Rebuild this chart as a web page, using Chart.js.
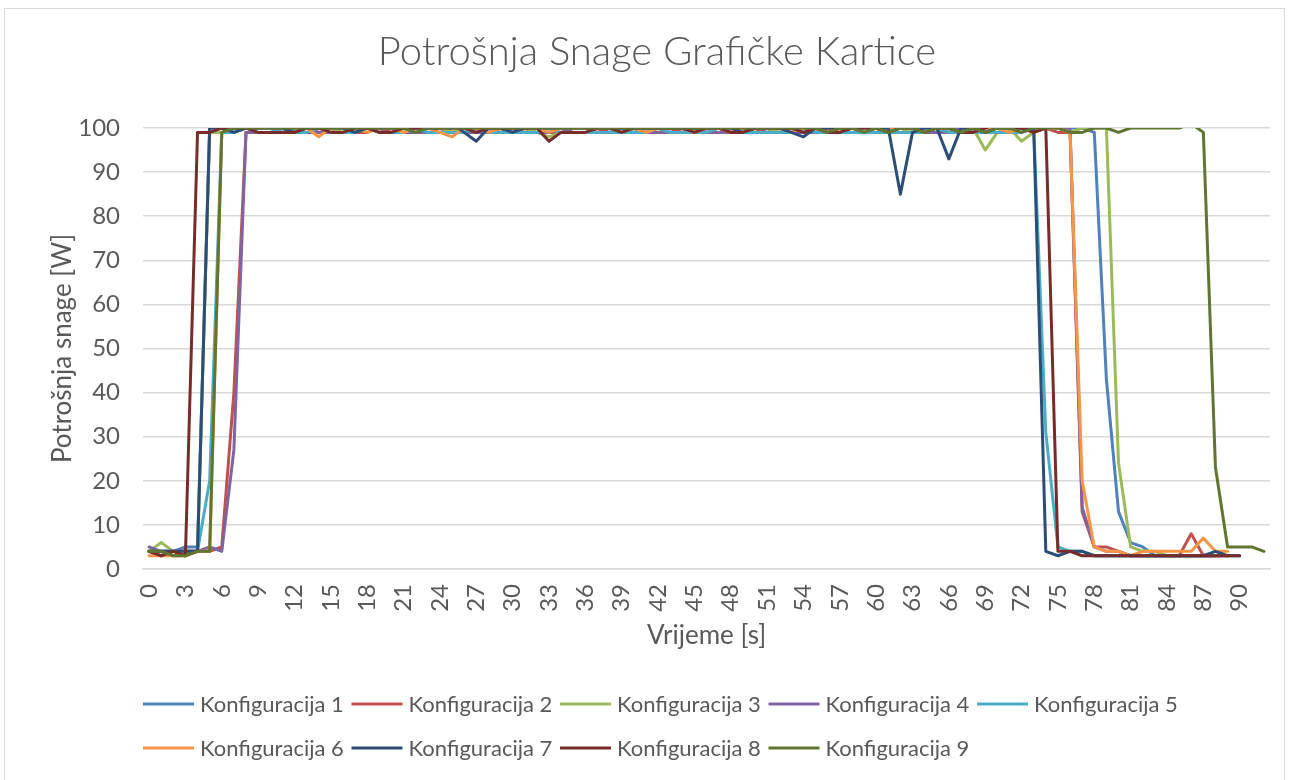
<!DOCTYPE html>
<html>
<head>
<meta charset="utf-8">
<title>Potrošnja Snage Grafičke Kartice</title>
<script src="https://cdn.jsdelivr.net/npm/chart.js@4.4.1/dist/chart.umd.min.js"></script>
<style>
  html, body { margin: 0; padding: 0; background: #fff; }
  body { width: 1291px; height: 780px; position: relative; overflow: hidden; }
  .frame { position: absolute; left: 4px; top: 8px; width: 1281px; height: 800px; border: 1px solid #d9d9d9; box-sizing: border-box; }
  #chart-wrap { position: absolute; left: 0; top: 0; width: 1291px; height: 780px; }
</style>
</head>
<body>
<div class="frame"></div>
<div id="chart-wrap"><canvas id="power"></canvas></div>
<script>
// time axis, one sample per second
const seconds = [
  0, 1, 2, 3, 4, 5, 6, 7, 8, 9, 10, 11, 12, 13, 14, 15, 16, 17, 18, 19,
  20, 21, 22, 23, 24, 25, 26, 27, 28, 29, 30, 31, 32, 33, 34, 35, 36, 37, 38, 39,
  40, 41, 42, 43, 44, 45, 46, 47, 48, 49, 50, 51, 52, 53, 54, 55, 56, 57, 58, 59,
  60, 61, 62, 63, 64, 65, 66, 67, 68, 69, 70, 71, 72, 73, 74, 75, 76, 77, 78, 79,
  80, 81, 82, 83, 84, 85, 86, 87, 88, 89, 90, 91, 92
];
const yTicks = [0, 10, 20, 30, 40, 50, 60, 70, 80, 90, 100];

const seriesNames = [
  'Konfiguracija 1', 'Konfiguracija 2', 'Konfiguracija 3',
  'Konfiguracija 4', 'Konfiguracija 5', 'Konfiguracija 6',
  'Konfiguracija 7', 'Konfiguracija 8', 'Konfiguracija 9'
];
const seriesColors = [
  '#4f81bd', '#c0504d', '#9bbb59', '#8064a2', '#4bacc6',
  '#f79646', '#2c4d75', '#772c2a', '#5f7530'
];

// power draw in W
const power1 = [
  4, 4, 4, 5, 5, 100, 100, 99, 100, 100,
  100, 99, 100, 100, 99, 99, 99, 100, 100, 99,
  100, 100, 100, 99, 99, 100, 100, 100, 99, 100,
  99, 100, 100, 101, 100, 100, 100, 100, 99, 100,
  99, 100, 100, 99, 100, 99, 100, 100, 99, 100,
  100, 99, 100, 100, 99, 100, 99, 100, 100, 99,
  99, 100, 100, 99, 100, 100, 99, 100, 99, 100,
  100, 99, 100, 100, 100, 100, 100, 100, 99, 43,
  13, 6, 5, 3, 3, 3, 3, 3, 3
];
const power2 = [
  4, 3, 4, 4, 4, 4, 5, 40, 99, 99,
  99, 99, 99, 100, 99, 99, 100, 99, 99, 100,
  99, 100, 99, 100, 100, 99, 100, 99, 100, 99,
  100, 99, 100, 99, 99, 100, 100, 99, 100, 99,
  100, 99, 100, 100, 99, 100, 99, 100, 99, 100,
  99, 100, 99, 100, 100, 99, 100, 99, 100, 99,
  100, 99, 100, 100, 99, 99, 100, 99, 100, 99,
  100, 99, 100, 99, 100, 99, 99, 13, 5, 5,
  4, 3, 3, 3, 3, 3, 8, 3, 3, 3
];
const power3 = [
  4, 6, 4, 3, 4, 99, 99, 100, 100, 100,
  100, 100, 99, 100, 100, 100, 99, 100, 100, 100,
  100, 99, 100, 100, 100, 99, 100, 100, 100, 102,
  100, 100, 99, 98, 99, 100, 100, 100, 100, 99,
  100, 100, 99, 100, 100, 99, 100, 100, 100, 99,
  100, 100, 99, 100, 100, 100, 99, 100, 100, 99,
  100, 100, 100, 99, 100, 100, 99, 100, 100, 95,
  99, 100, 97, 99, 100, 100, 99, 100, 100, 100,
  24, 5, 4, 4, 3, 3, 3
];
const power4 = [
  5, 4, 4, 4, 4, 5, 4, 27, 99, 99,
  99, 99, 99, 99, 99, 99, 99, 99, 100, 99,
  99, 99, 99, 99, 99, 99, 99, 99, 99, 99,
  99, 99, 99, 99, 100, 99, 99, 99, 99, 99,
  99, 99, 99, 99, 99, 100, 99, 99, 99, 99,
  99, 99, 99, 99, 99, 99, 99, 99, 99, 99,
  99, 99, 99, 99, 99, 99, 99, 100, 99, 99,
  99, 99, 99, 100, 100, 100, 100, 14, 5, 4,
  4, 3, 3, 3, 3, 3, 3, 3, 3, 3
];
const power5 = [
  4, 4, 3, 4, 4, 20, 99, 99, 100, 99,
  99, 100, 99, 99, 100, 99, 99, 99, 100, 99,
  99, 99, 100, 99, 99, 99, 99, 100, 99, 99,
  99, 99, 99, 100, 99, 99, 99, 99, 99, 99,
  99, 99, 100, 99, 99, 99, 99, 100, 99, 99,
  99, 99, 99, 99, 100, 99, 99, 99, 99, 99,
  99, 99, 99, 99, 99, 100, 99, 99, 99, 99,
  99, 99, 99, 100, 31, 5, 4, 4, 3, 3,
  3, 3, 3, 3, 3, 3, 3, 3, 3
];
const power6 = [
  3, 3, 3, 3, 4, 4, 99, 100, 100, 100,
  100, 100, 100, 100, 98, 100, 100, 100, 99, 100,
  100, 99, 100, 100, 99, 98, 100, 100, 99, 100,
  101, 100, 100, 99, 100, 100, 100, 100, 100, 102,
  100, 99, 100, 100, 100, 99, 100, 100, 99, 100,
  100, 100, 100, 99, 100, 100, 99, 100, 100, 100,
  100, 100, 100, 100, 102, 100, 100, 99, 99, 100,
  100, 99, 100, 99, 100, 100, 99, 20, 5, 4,
  4, 3, 4, 4, 4, 4, 4, 7, 4, 4
];
const power7 = [
  4, 4, 4, 4, 4, 100, 100, 99, 100, 100,
  100, 100, 99, 100, 100, 100, 100, 99, 100, 100,
  100, 100, 100, 100, 100, 101, 99, 97, 100, 100,
  99, 100, 100, 100, 100, 100, 100, 100, 100, 100,
  100, 100, 100, 100, 100, 100, 100, 100, 100, 99,
  100, 100, 100, 99, 98, 100, 100, 100, 100, 100,
  100, 100, 85, 99, 100, 100, 93, 100, 100, 99,
  100, 100, 100, 100, 4, 3, 4, 4, 3, 3,
  3, 3, 3, 3, 3, 3, 3, 3, 4, 3, 3
];
const power8 = [
  4, 3, 4, 3, 99, 99, 100, 100, 100, 99,
  99, 99, 99, 100, 100, 99, 99, 100, 100, 99,
  99, 100, 100, 100, 100, 100, 100, 99, 100, 100,
  100, 100, 100, 97, 99, 99, 99, 100, 100, 99,
  100, 100, 100, 100, 100, 99, 100, 100, 99, 99,
  100, 100, 100, 100, 99, 100, 99, 99, 100, 100,
  100, 99, 100, 100, 99, 100, 100, 99, 99, 100,
  101, 100, 100, 99, 100, 4, 4, 3, 3, 3,
  3, 3, 3, 3, 3, 3, 3, 3, 3, 3, 3
];
const power9 = [
  4, 4, 3, 3, 4, 4, 99, 100, 100, 100,
  100, 100, 100, 100, 100, 100, 100, 100, 100, 100,
  100, 100, 99, 100, 100, 100, 100, 100, 100, 100,
  100, 100, 100, 100, 100, 100, 100, 100, 100, 100,
  100, 100, 100, 100, 100, 100, 100, 100, 100, 100,
  100, 100, 100, 100, 100, 100, 99, 100, 100, 99,
  100, 99, 100, 100, 99, 100, 100, 99, 100, 99,
  100, 100, 99, 100, 100, 100, 99, 99, 100, 100,
  99, 100, 100, 100, 100, 100, 101, 99, 23, 5,
  5, 5, 4
];

const seriesData = [power1, power2, power3, power4, power5, power6, power7, power8, power9];

const TEXT = '#595959';
const GRID = '#d9d9d9';
const FONT = 'Lato, "Open Sans", sans-serif';

// two-row legend, five entries per row, left edge on the plot area
const legendRows = {
  id: 'legendRows',
  afterDraw(chart) {
    const { ctx, chartArea } = chart;
    ctx.save();
    ctx.font = '22px ' + FONT;
    ctx.textBaseline = 'middle';
    ctx.lineCap = 'butt';
    chart.data.datasets.forEach((ds, i) => {
      const x = chartArea.left + (i % 5) * 208.5;
      const y = chartArea.bottom + 135 + Math.floor(i / 5) * 44;
      ctx.strokeStyle = ds.borderColor;
      ctx.lineWidth = 3;
      ctx.beginPath();
      ctx.moveTo(x, y);
      ctx.lineTo(x + 51, y);
      ctx.stroke();
      ctx.fillStyle = TEXT;
      ctx.fillText(ds.label, x + 57, y + 1);
    });
    ctx.restore();
  }
};

const datasets = seriesNames.map((name, i) => ({
  label: name,
  data: seriesData[i],
  borderColor: seriesColors[i],
  backgroundColor: seriesColors[i],
  borderWidth: 3,
  borderJoinStyle: 'round',
  borderCapStyle: 'round',
  pointRadius: 0,
  tension: 0,
  order: seriesNames.length - i
}));

new Chart(document.getElementById('power'), {
  type: 'line',
  data: { labels: seconds, datasets: datasets },
  plugins: [legendRows],
  options: {
    responsive: true,
    maintainAspectRatio: false,
    animation: false,
    layout: { padding: { left: 44, right: 21, top: 0, bottom: 129 } },
    plugins: {
      legend: { display: false },
      tooltip: { enabled: false },
      title: {
        display: true,
        text: 'Potrošnja Snage Grafičke Kartice',
        color: TEXT,
        font: { family: FONT, size: 40, weight: '300' },
        padding: { top: 28, bottom: 52 }
      }
    },
    scales: {
      x: {
        type: 'category',
        offset: true,
        grid: { display: false, drawTicks: false },
        border: { display: true, color: GRID, width: 1.5 },
        ticks: {
          autoSkip: false,
          minRotation: 90,
          maxRotation: 90,
          padding: 15,
          color: TEXT,
          font: { family: FONT, size: 24 },
          callback(value, index) {
            return index % 3 === 0 ? String(seconds[index]) : '';
          }
        },
        title: {
          display: true,
          text: 'Vrijeme [s]',
          color: TEXT,
          font: { family: FONT, size: 26 },
          padding: { top: 7, bottom: 0 }
        },
        afterFit(scale) {
          // keep the plot running edge to edge
          scale.paddingLeft = 0;
          scale.paddingRight = 0;
          scale.height = 82;
        }
      },
      y: {
        min: 0,
        max: 100,
        afterBuildTicks(scale) {
          scale.ticks = yTicks.map(v => ({ value: v }));
        },
        grid: { color: GRID, lineWidth: 1.5, drawTicks: false },
        border: { display: false },
        ticks: {
          padding: 23,
          color: TEXT,
          font: { family: FONT, size: 24 }
        },
        title: {
          display: true,
          text: 'Potrošnja snage [W]',
          color: TEXT,
          font: { family: FONT, size: 26 },
          padding: { top: 3, bottom: 0 }
        },
        afterFit(scale) {
          scale.width = 99;
        }
      }
    }
  }
});
</script>
</body>
</html>
